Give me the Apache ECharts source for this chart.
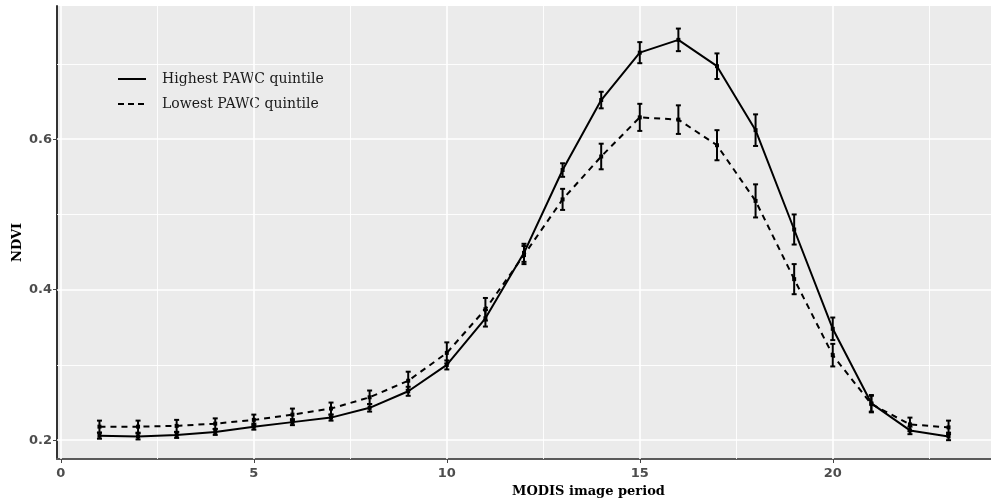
<!DOCTYPE html>
<html>
<head>
<meta charset="utf-8">
<script src="https://cdn.jsdelivr.net/npm/echarts@6/dist/echarts.min.js"></script>
<style>
  html, body { margin: 0; padding: 0; background: #ffffff; }
  #chart { width: 991px; height: 503px; }
</style>
</head>
<body>
<div id="chart"></div>
<script>
// MODIS image periods (x) and mean NDVI with standard-error half widths
const periods = [1, 2, 3, 4, 5, 6, 7, 8, 9, 10, 11, 12, 13, 14, 15, 16, 17, 18, 19, 20, 21, 22, 23];
const highestNdvi = [0.206, 0.205, 0.207, 0.211, 0.218, 0.224, 0.230, 0.243, 0.265, 0.300, 0.362, 0.449,
                     0.559, 0.652, 0.715, 0.732, 0.697, 0.612, 0.480, 0.348, 0.249, 0.213, 0.205];
const highestErr  = [0.004, 0.004, 0.004, 0.004, 0.004, 0.004, 0.004, 0.005, 0.006, 0.006, 0.011, 0.012,
                     0.009, 0.011, 0.014, 0.015, 0.017, 0.021, 0.020, 0.015, 0.011, 0.005, 0.005];
const lowestNdvi  = [0.218, 0.218, 0.219, 0.222, 0.227, 0.234, 0.242, 0.257, 0.279, 0.316, 0.374, 0.446,
                     0.520, 0.577, 0.629, 0.626, 0.592, 0.518, 0.414, 0.313, 0.248, 0.221, 0.217];
const lowestErr   = [0.008, 0.008, 0.008, 0.007, 0.007, 0.008, 0.008, 0.009, 0.012, 0.014, 0.015, 0.012,
                     0.014, 0.017, 0.018, 0.019, 0.020, 0.022, 0.020, 0.015, 0.011, 0.009, 0.009];

const seriesNames = ['Highest PAWC quintile', 'Lowest PAWC quintile'];

// Tick labels and grid-line positions
const xTicks = [0, 5, 10, 15, 20];
const yTicks = [0.2, 0.4, 0.6];
const xMinorGrid = [2.5, 7.5, 12.5, 17.5, 22.5];
const yMinorGrid = [0.3, 0.5, 0.7];

const X_MIN = -0.1, X_MAX = 24.1;
const Y_MIN = 0.175, Y_MAX = 0.777;

const chart = echarts.init(document.getElementById('chart'), null, { renderer: 'canvas' });

const pairs = (vals) => periods.map((p, i) => [p, vals[i]]);
const bars = (vals, errs) => periods.map((p, i) => [p, vals[i] - errs[i], vals[i] + errs[i]]);

function errorBarItem(params, api) {
  const x = api.value(0);
  const top = api.coord([x, api.value(2)]);
  const bot = api.coord([x, api.value(1)]);
  const cap = 2.5;
  const style = { stroke: '#000', lineWidth: 2, fill: null };
  return {
    type: 'group',
    children: [
      { type: 'line', shape: { x1: top[0], y1: top[1], x2: bot[0], y2: bot[1] }, style },
      { type: 'line', shape: { x1: top[0] - cap, y1: top[1], x2: top[0] + cap, y2: top[1] }, style },
      { type: 'line', shape: { x1: bot[0] - cap, y1: bot[1], x2: bot[0] + cap, y2: bot[1] }, style }
    ]
  };
}

const gridLine = (w) => ({ color: '#ffffff', width: w, type: 'solid' });
const gridMarks = [].concat(
  xTicks.map(v => ({ xAxis: v, lineStyle: gridLine(1.6) })),
  xMinorGrid.map(v => ({ xAxis: v, lineStyle: gridLine(0.9) })),
  yTicks.map(v => ({ yAxis: v, lineStyle: gridLine(1.6) })),
  yMinorGrid.map(v => ({ yAxis: v, lineStyle: gridLine(0.9) }))
);

const tickFont = { fontFamily: 'DejaVu Sans', fontWeight: 'bold', fontSize: 13, color: '#4d4d4d' };
const titleFont = { fontFamily: 'DejaVu Serif', fontWeight: 'bold', fontSize: 13, fill: '#000' };
const legendFont = { fontFamily: 'DejaVu Serif', fontSize: 14, fill: '#1a1a1a', verticalAlign: 'middle' };

chart.setOption({
  animation: false,
  backgroundColor: '#ffffff',
  grid: {
    left: 57, top: 6, width: 939, height: 453,
    show: true, backgroundColor: '#ebebeb', borderWidth: 0
  },
  xAxis: {
    type: 'value', min: X_MIN, max: X_MAX,
    axisLine: { show: true, onZero: false, lineStyle: { color: '#5a5a5a', width: 2 } },
    axisTick: { show: true, length: 4, customValues: xTicks, lineStyle: { color: '#444', width: 1 } },
    axisLabel: Object.assign({ customValues: xTicks, margin: 8 }, tickFont),
    splitLine: { show: false }
  },
  yAxis: {
    type: 'value', min: Y_MIN, max: Y_MAX,
    axisLine: { show: true, onZero: false, lineStyle: { color: '#333', width: 2 } },
    axisTick: { show: true, length: 4, customValues: yTicks, lineStyle: { color: '#444', width: 1 } },
    axisLabel: Object.assign({ customValues: yTicks, margin: 5, formatter: v => v.toFixed(1) }, tickFont),
    splitLine: { show: false }
  },
  series: [
    {
      name: 'grid', type: 'line', data: [], silent: true, z: 1,
      markLine: { silent: true, z: 1, symbol: 'none', label: { show: false }, animation: false, data: gridMarks }
    },
    {
      name: seriesNames[0], type: 'line', data: pairs(highestNdvi), z: 3,
      symbol: 'rect', symbolSize: 4, itemStyle: { color: '#000' },
      lineStyle: { color: '#000', width: 2 }
    },
    {
      name: seriesNames[1], type: 'line', data: pairs(lowestNdvi), z: 3,
      symbol: 'rect', symbolSize: 4, itemStyle: { color: '#000' },
      lineStyle: { color: '#000', width: 2, type: [6, 5] }
    },
    {
      name: seriesNames[0] + ' SE', type: 'custom', z: 6,
      data: bars(highestNdvi, highestErr), encode: { x: 0, y: [1, 2] },
      renderItem: errorBarItem
    },
    {
      name: seriesNames[1] + ' SE', type: 'custom', z: 6,
      data: bars(lowestNdvi, lowestErr), encode: { x: 0, y: [1, 2] },
      renderItem: errorBarItem
    }
  ],
  graphic: [
    // legend keys
    { type: 'line', shape: { x1: 118, y1: 79, x2: 146, y2: 79 }, style: { stroke: '#000', lineWidth: 2 } },
    { type: 'text', x: 162, y: 79, style: Object.assign({ text: seriesNames[0] }, legendFont) },
    { type: 'line', shape: { x1: 118, y1: 104, x2: 147, y2: 104 }, style: { stroke: '#000', lineWidth: 2, lineDash: [6, 4] } },
    { type: 'text', x: 162, y: 104, style: Object.assign({ text: seriesNames[1] }, legendFont) },
    // axis titles
    { type: 'text', left: 512, top: 485, style: Object.assign({ text: 'MODIS image period' }, titleFont) },
    { type: 'text', x: 11, y: 262, rotation: Math.PI / 2, style: Object.assign({ text: 'NDVI' }, titleFont) }
  ]
});
</script>
</body>
</html>
